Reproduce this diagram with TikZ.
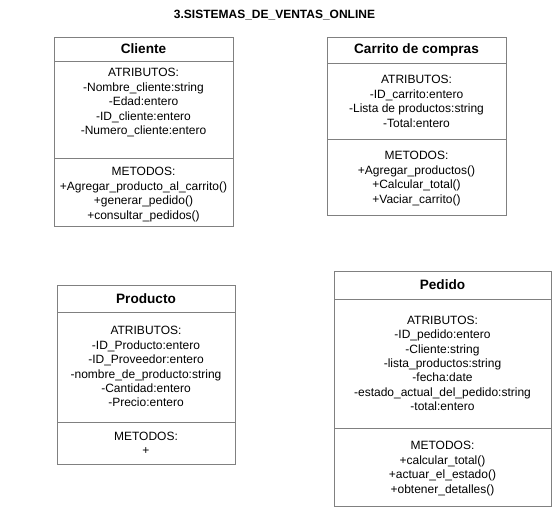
\documentclass[tikz,border=0pt]{standalone}
\usepackage{fontspec}
\setmainfont{Liberation Sans}
\definecolor{linegray}{RGB}{128,128,128}
\begin{document}
\begin{tikzpicture}[x=1pt,y=1pt,
  box/.style={draw=linegray, line width=1pt, inner sep=0pt, outer sep=0pt, anchor=north west},
  txt/.style={font=\fontsize{12}{14.4}\selectfont, align=center, inner sep=0pt, anchor=base},
  ttl/.style={font=\fontsize{13.6}{16}\selectfont\bfseries},
  heading/.style={font=\fontsize{12}{14}\selectfont\bfseries, inner sep=0pt}]
\useasboundingbox (0,0) rectangle (557,-507);

\node[heading] (title) at (274.5,-15) {3.SISTEMAS\_DE\_VENTAS\_ONLINE};

% Cliente
\node[box, ttl, minimum width=179pt, minimum height=24pt] (cliT) at (54,-37) {Cliente};
\node[box, minimum width=179pt, minimum height=97pt] (cliA) at (cliT.south west) {};
\node[box, minimum width=179pt, minimum height=68pt] (cliM) at (cliA.south west) {};
\node[txt] (cliAt) at (143.5,-134.4) {ATRIBUTOS:\\-Nombre\_cliente:string\\-Edad:entero\\-ID\_cliente:entero\\-Numero\_cliente:entero};
\node[txt] (cliMt) at (143.5,-219) {METODOS:\\+Agregar\_producto\_al\_carrito()\\+generar\_pedido()\\+consultar\_pedidos()};

% Carrito de compras
\node[box, ttl, minimum width=179pt, minimum height=26pt] (carT) at (327,-37) {Carrito de compras};
\node[box, minimum width=179pt, minimum height=76pt] (carA) at (carT.south west) {};
\node[box, minimum width=179pt, minimum height=76pt] (carM) at (carA.south west) {};
\node[txt] (carAt) at (416.5,-127) {ATRIBUTOS:\\-ID\_carrito:entero\\-Lista de productos:string\\-Total:entero};
\node[txt] (carMt) at (416.5,-203) {METODOS:\\+Agregar\_productos()\\+Calcular\_total()\\+Vaciar\_carrito()};

% Producto
\node[box, ttl, minimum width=178pt, minimum height=27pt] (proT) at (57,-285) {Producto};
\node[box, minimum width=178pt, minimum height=110pt] (proA) at (proT.south west) {};
\node[box, minimum width=178pt, minimum height=42pt] (proM) at (proA.south west) {};
\node[txt] (proAt) at (146,-406.8) {ATRIBUTOS:\\-ID\_Producto:entero\\-ID\_Proveedor:entero\\-nombre\_de\_producto:string\\-Cantidad:entero\\-Precio:entero};
\node[txt] (proMt) at (146,-454.4) {METODOS:\\+};

% Pedido
\node[box, ttl, minimum width=217pt, minimum height=28pt] (pedT) at (334,-271) {Pedido};
\node[box, minimum width=217pt, minimum height=129pt] (pedA) at (pedT.south west) {};
\node[box, minimum width=217pt, minimum height=78pt] (pedM) at (pedA.south west) {};
\node[txt] (pedAt) at (442.5,-410.7) {ATRIBUTOS:\\-ID\_pedido:entero\\-Cliente:string\\-lista\_productos:string\\-fecha:date\\-estado\_actual\_del\_pedido:string\\-total:entero};
\node[txt] (pedMt) at (442.5,-493) {METODOS:\\+calcular\_total()\\+actuar\_el\_estado()\\+obtener\_detalles()};
\end{tikzpicture}
\end{document}
